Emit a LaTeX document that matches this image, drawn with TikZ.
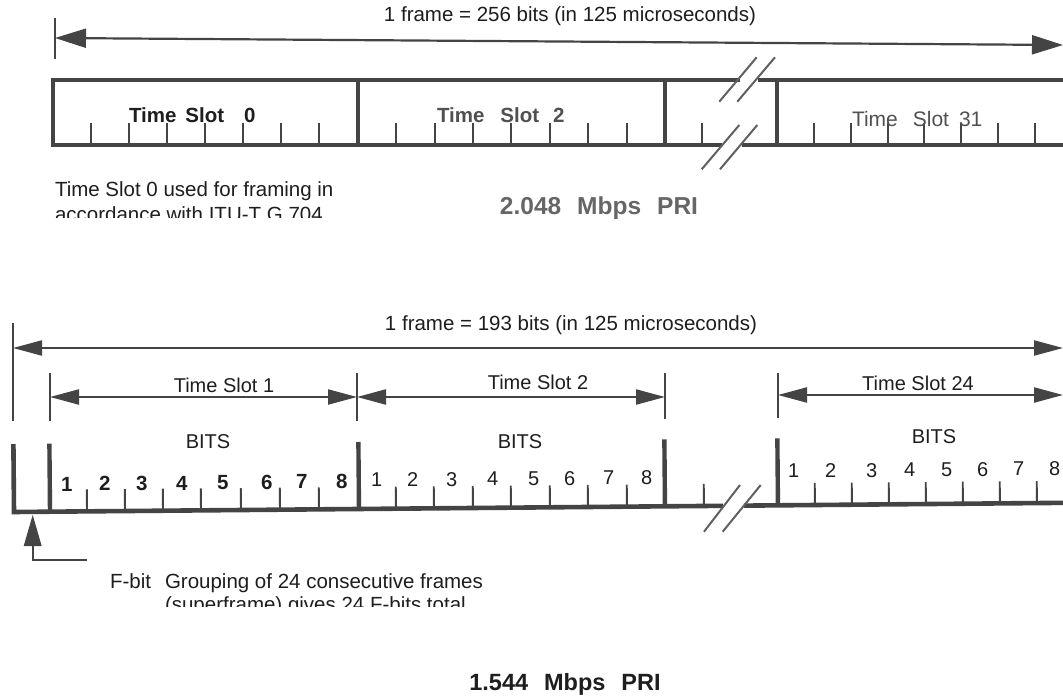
\documentclass[tikz,border=0pt]{standalone}
\usepackage{fontspec}
\setmainfont{Liberation Sans}
\usetikzlibrary{arrows.meta}
\definecolor{inkc}{HTML}{444444}
\definecolor{txtc}{HTML}{1E1E1E}
\definecolor{txtg}{HTML}{505050}
\definecolor{txtl}{HTML}{666666}
\begin{document}
\begin{tikzpicture}[x=1pt,y=-1pt,
  every node/.style={inner sep=0pt,outer sep=0pt},
  frameline/.style={draw=inkc,line width=4pt,line join=miter},
  divline/.style={draw=inkc,line width=3.6pt},
  tickline/.style={draw=inkc,line width=1.9pt},
  dimline/.style={draw=inkc,line width=2.2pt},
  slashline/.style={draw=inkc!85,line width=2pt},
  dimarrows/.style={{Triangle[length=29pt,width=15pt,fill=inkc]}-{Triangle[length=29pt,width=15pt,fill=inkc]}},
  txt/.style={text=txtc,font=\fontsize{20.5}{24}\selectfont},
  tslot/.style={text=#1,font=\fontsize{20.5}{24}\selectfont\bfseries,anchor=base west},
  digit/.style={text=txtc,font=\fontsize{20}{24}\selectfont,anchor=base},
  bdigit/.style={text=txtc,font=\fontsize{20.5}{24}\selectfont\bfseries,anchor=base},
  rate/.style={text=#1,font=\fontsize{24.5}{28}\selectfont\bfseries,anchor=base}
]
\useasboundingbox (0,0) rectangle (1063,698);
\fill[white] (0,0) rectangle (1063,698);

% ================= 2.048 Mbps =================
\node[txt,anchor=base] (title1) at (570,22) {1 frame = 256 bits (in 125 microseconds)};
\coordinate (a1L) at (55,38);
\coordinate (a1R) at (1063,45);
\draw[dimline,line width=2.4pt] (55,18) -- (55,59);
\draw[dimline,{Triangle[length=31pt,width=19pt,fill=inkc]}-{Triangle[length=31pt,width=19pt,fill=inkc]}] (a1L) -- (a1R);

% frame
\draw[frameline] (740,80) -- (53,80) -- (53,145) -- (722,145);
\draw[frameline] (758,80) -- (1070,80);
\draw[frameline] (742,145) -- (1070,145);
\foreach \x in {358,665,777} \draw[divline] (\x,80) -- (\x,145);
\foreach \x in {91,129,167,205,243,281,319,
                396,435,473,511,550,588,627,
                702,
                814,851,888,924,961,998,1035}
  \draw[tickline] (\x,145) -- (\x,123);
% break marks
\draw[slashline] (719.3,101.7) -- (756.7,57.3);
\draw[slashline] (737.3,101.7) -- (775,57.3);
\draw[slashline] (701.7,169.3) -- (739.3,125);
\draw[slashline] (720,169.3) -- (757.3,125);

\node[tslot=txtc] (ts0) at (129,123) {Time\hspace{9pt}Slot\hspace{20pt}0};
\node[tslot=txtg] (ts2) at (437,123) {Time\hspace{16pt}Slot\hspace{14pt}2};
\node[tslot=txtg,font=\fontsize{21}{24}\selectfont] (ts31) at (852,127) {Time\hspace{15pt}Slot\hspace{10pt}31};

\node[txt,anchor=base west] (note1) at (55,196) {Time Slot 0 used for framing in};
\begin{scope}
  \clip (0,200) rectangle (460,217.5);
  \node[txt,anchor=base west] (note2) at (55,221) {accordance with ITU-T G.704};
\end{scope}
\node[rate=txtl] (rate1) at (599,214) {2.048\hspace{16pt}Mbps\hspace{16pt}PRI};

% ================= 1.544 Mbps =================
\node[txt,anchor=base] (title2) at (571,330) {1 frame = 193 bits (in 125 microseconds)};
\coordinate (a2L) at (13,348);
\coordinate (a2R) at (1063,348);
\draw[dimline] (13,323) -- (13,421);
\draw[dimline,dimarrows] (a2L) -- (a2R);

\coordinate (s1L) at (50,397);
\coordinate (s1R) at (357,397);
\coordinate (s2R) at (665,397);
\coordinate (s24L) at (778,395);
\coordinate (s24R) at (1063,395);
\draw[dimline,line width=1.9pt] (50,373) -- (50,421);
\draw[dimline,line width=1.9pt] (357,373) -- (357,421);
\draw[dimline,line width=1.9pt] (665,373) -- (665,419);
\draw[dimline,line width=1.9pt] (778,373) -- (778,418);
\draw[dimline,dimarrows] (s1L) -- (s1R);
\draw[dimline,dimarrows] (s1R) -- (s2R);
\draw[dimline,dimarrows] (s24L) -- (s24R);
\node[txt,anchor=base,font=\fontsize{20}{24}\selectfont] (l1) at (224,392) {Time Slot 1};
\node[txt,anchor=base,font=\fontsize{20}{24}\selectfont] (l2) at (538,389) {Time Slot 2};
\node[txt,anchor=base,font=\fontsize{20}{24}\selectfont] (l24) at (918,390.5) {Time Slot 24};

\node[txt,anchor=base,font=\fontsize{20}{24}\selectfont] (b1) at (208,448) {BITS};
\node[txt,anchor=base,font=\fontsize{20}{24}\selectfont] (b2) at (520,448) {BITS};
\node[txt,anchor=base,font=\fontsize{20}{24}\selectfont] (b24) at (934,443) {BITS};

\begin{scope}[rotate around={0.5:(14,512)}]
  \draw[frameline,line width=4.6pt] (14,444) -- (14,512) -- (723,512);
  \draw[frameline,line width=4.6pt] (744,512) -- (1075,512);
  \draw[divline,line width=4.4pt] (50,444) -- (50,512);
  \foreach \x in {359,665,778} \draw[divline,line width=4.4pt] (\x,445) -- (\x,512);
  \foreach \x in {87,125,163,201,241,280,319,
                  396,434,473,511,550,588,627,
                  704,
                  815,852,889,926,963,1000,1037}
    \draw[tickline] (\x,512) -- (\x,490);
  \foreach \x/\n in {67/1,105/2,142/3,182/4,223/5,267/6,302/7,342/8}
    \node[bdigit] (d1-\n) at (\x,491.5) {\n};
  \foreach \x/\n in {377/1,413/2,452/3,493/4,534/5,570/6,609/7,647/8}
    \node[digit] (d2-\n) at (\x,490) {\n};
  \foreach \x/\n in {794/1,831/2,872/3,910/4,947/5,983/6,1019/7,1055/8}
    \node[digit] (d24-\n) at (\x,484.5) {\n};
\end{scope}
\draw[slashline] (704,531.7) -- (740,485);
\draw[slashline] (722.7,531.7) -- (760.7,485);

% F-bit pointer
\coordinate (fTip) at (32.7,515);
\coordinate (fBase) at (32.7,546);
\coordinate (fCorner) at (32.7,560);
\coordinate (fEnd) at (87,560);
\draw[dimline] (fBase) -- (fCorner) -- (fEnd);
\fill[inkc] (fTip) -- ([xshift=-9pt]fBase) -- ([xshift=9pt]fBase) -- cycle;

\node[txt,anchor=base west] (fbit) at (110,588) {F-bit};
\node[txt,anchor=base west] (grp1) at (165,588) {Grouping of 24 consecutive frames};
\begin{scope}
  \clip (100,592) rectangle (600,606.5);
  \node[txt,anchor=base west] (grp2) at (165,611) {(superframe) gives 24 F-bits total};
\end{scope}
\node[rate=txtc,font=\fontsize{23.5}{28}\selectfont\bfseries] (rate2) at (565,690) {1.544\hspace{16pt}Mbps\hspace{16pt}PRI};
\end{tikzpicture}
\end{document}
